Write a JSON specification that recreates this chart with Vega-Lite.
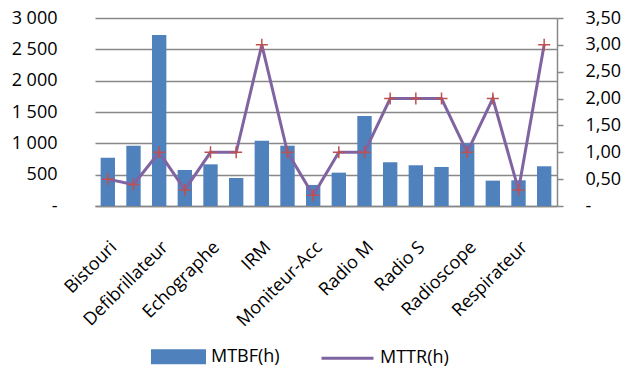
{
  "$schema": "https://vega.github.io/schema/vega-lite/v6.json",
  "width": 462,
  "height": 188,
  "autosize": {"type": "none"},
  "padding": {"left": 95, "top": 18, "right": 65, "bottom": 164},
  "background": "white",
  "config": {
    "font": "Open Sans",
    "view": {"stroke": null},
    "axis": {"labelFont": "Open Sans", "labelFontSize": 18, "labelColor": "#000000"}
  },
  "data": {
    "values": [
      {"equipement": "Bistouri", "mtbf": 770, "mttr": 0.5},
      {"equipement": "Couveuse", "mtbf": 960, "mttr": 0.4},
      {"equipement": "Defibrillateur", "mtbf": 2730, "mttr": 1.0},
      {"equipement": "ECG", "mtbf": 575, "mttr": 0.3},
      {"equipement": "Echographe", "mtbf": 665, "mttr": 1.0},
      {"equipement": "Generateur", "mtbf": 447, "mttr": 1.0},
      {"equipement": "IRM", "mtbf": 1040, "mttr": 3.0},
      {"equipement": "Laveur", "mtbf": 962, "mttr": 1.0},
      {"equipement": "Moniteur-Acc", "mtbf": 336, "mttr": 0.2},
      {"equipement": "Pousse-seringue", "mtbf": 532, "mttr": 1.0},
      {"equipement": "Radio M", "mtbf": 1438, "mttr": 1.0},
      {"equipement": "Radio P", "mtbf": 698, "mttr": 2.0},
      {"equipement": "Radio S", "mtbf": 650, "mttr": 2.0},
      {"equipement": "Radio T", "mtbf": 623, "mttr": 2.0},
      {"equipement": "Radioscope", "mtbf": 1002, "mttr": 1.0},
      {"equipement": "Rein artificiel", "mtbf": 405, "mttr": 2.0},
      {"equipement": "Respirateur", "mtbf": 410, "mttr": 0.3},
      {"equipement": "Scanner", "mtbf": 634, "mttr": 3.0}
    ]
  },
  "encoding": {
    "x": {
      "field": "equipement",
      "type": "nominal",
      "sort": null,
      "scale": {"paddingInner": 0.44, "paddingOuter": 0.22},
      "axis": {
        "title": null,
        "values": ["Bistouri", "Defibrillateur", "Echographe", "IRM", "Moniteur-Acc", "Radio M", "Radio S", "Radioscope", "Respirateur"],
        "labelAngle": -45,
        "labelPadding": 32,
        "labelDx": -10,
        "ticks": false,
        "domainColor": "#888888",
        "domainWidth": 1.5
      }
    }
  },
  "layer": [
    {
      "mark": {"type": "bar"},
      "encoding": {
        "y": {
          "field": "mtbf",
          "type": "quantitative",
          "scale": {"domain": [0, 3000]},
          "axis": {
            "orient": "left",
            "title": null,
            "values": [0, 500, 1000, 1500, 2000, 2500, 3000],
            "domain": false,
            "ticks": false,
            "labelPadding": 38,
            "grid": true,
            "gridColor": "#888888",
            "gridWidth": 1.5,
            "labelExpr": "datum.value == 0 ? '-\u00a0\u00a0' : replace(format(datum.value, ',d'), ',', ' ')"
          }
        },
        "color": {
          "datum": "MTBF(h)",
          "scale": {"domain": ["MTBF(h)", "MTTR(h)"], "range": ["#4F81BD", "#8064A2"]},
          "legend": {
            "orient": "none",
            "legendX": 56,
            "legendY": 311,
            "direction": "horizontal",
            "title": null,
            "labelFont": "Open Sans",
            "labelFontSize": 18,
            "labelColor": "#000000",
            "symbolSize": 2704,
            "columnPadding": 35,
            "labelOffset": 5,
            "encode": {
              "symbols": {
                "update": {
                  "shape": {"signal": "datum.value == 'MTBF(h)' ? 'M-1,-0.23H1V0.23H-1Z' : 'M-1,0H1'"},
                  "fill": {"signal": "datum.value == 'MTBF(h)' ? '#4F81BD' : 'transparent'"},
                  "stroke": {"signal": "datum.value == 'MTBF(h)' ? 'transparent' : '#8064A2'"},
                  "strokeWidth": {"value": 3},
                  "opacity": {"value": 1}
                }
              }
            }
          }
        }
      }
    },
    {
      "encoding": {
        "y": {
          "field": "mttr",
          "type": "quantitative",
          "scale": {"domain": [0, 3.5]},
          "axis": {
            "orient": "right",
            "title": null,
            "values": [0, 0.5, 1, 1.5, 2, 2.5, 3, 3.5],
            "grid": false,
            "domain": true,
            "domainColor": "#888888",
            "domainWidth": 1.5,
            "ticks": true,
            "tickColor": "#888888",
            "tickWidth": 1.5,
            "tickSize": 6,
            "labelPadding": 22,
            "labelExpr": "datum.value == 0 ? '-' : replace(format(datum.value, '.2f'), '.', ',')"
          }
        }
      },
      "layer": [
        {
          "mark": {"type": "line", "strokeWidth": 3},
          "encoding": {"color": {"datum": "MTTR(h)"}}
        },
        {
          "mark": {"type": "point", "shape": "M-1,0H1M0,-1V1", "size": 144, "color": "#C0504D", "filled": false, "strokeWidth": 1.5, "opacity": 1}
        }
      ]
    }
  ],
  "resolve": {"scale": {"y": "independent"}}
}
